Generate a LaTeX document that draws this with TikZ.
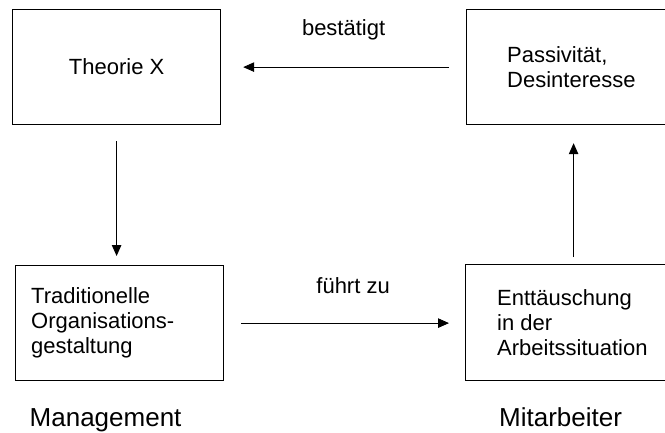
\documentclass[tikz,border=0pt]{standalone}
\usepackage{fontspec}
\setmainfont{Liberation Sans}
\usetikzlibrary{arrows.meta}

\begin{document}
\begin{tikzpicture}[x=1pt, y=-1pt,
  box/.style={draw=black, line width=1.2pt, rectangle, inner sep=0pt, anchor=north west},
  txt/.style={inner sep=0pt, align=left, font=\fontsize{22}{25}\selectfont},
  tag/.style={inner sep=0pt, font=\fontsize{26}{30}\selectfont},
  arr/.style={draw=black, line width=0.9pt, -{Triangle[length=11pt, width=9.5pt]}},
]
\useasboundingbox (0,0) rectangle (665,432);

% the four boxes
\node[box, minimum width=208pt, minimum height=115pt] (thx) at (12,9) {};
\node[box, minimum width=199pt, minimum height=115pt] (pas) at (466,9) {};
\node[box, minimum width=208pt, minimum height=115pt] (org) at (15,265) {};
\node[box, minimum width=200pt, minimum height=116pt] (ent) at (465,264) {};

% box texts
\node[txt] (thxt) at (thx.center) {Theorie X};
\node[txt, anchor=west] (past) at ([xshift=41pt]pas.west) {Passivität,\\Desinteresse};
\node[txt, anchor=west] (orgt) at ([xshift=16pt]org.west) {Traditionelle\\Organisations-\\gestaltung};
\node[txt, anchor=west] (entt) at ([xshift=32pt]ent.west) {Enttäuschung\\in der\\Arbeitssituation};

% connectors
\draw[arr, shorten <=17pt, shorten >=22pt] (pas.west) -- (thx.east)
  node[txt, midway, anchor=base, yshift=32pt] (lb1) {bestätigt};
\draw[arr, shorten <=16pt, shorten >=9pt] (thx.south) -- (thx.south |- org.north);
\draw[arr, shorten <=17pt, shorten >=16pt] (org.east) -- (org.east -| ent.west)
  node[txt, midway, anchor=base, xshift=8.5pt, yshift=30pt] (lb2) {führt zu};
\draw[arr, shorten <=7pt, shorten >=18pt] ([xshift=8pt]ent.north) -- ([xshift=8pt]ent.north |- pas.south);

% column captions
\node[tag, anchor=base] (mgmt) at ([xshift=-14pt, yshift=-45pt]org.south) {Management};
\node[tag, anchor=base] (mitb) at ([xshift=-5pt, yshift=-45pt]ent.south) {Mitarbeiter};
\end{tikzpicture}
\end{document}
